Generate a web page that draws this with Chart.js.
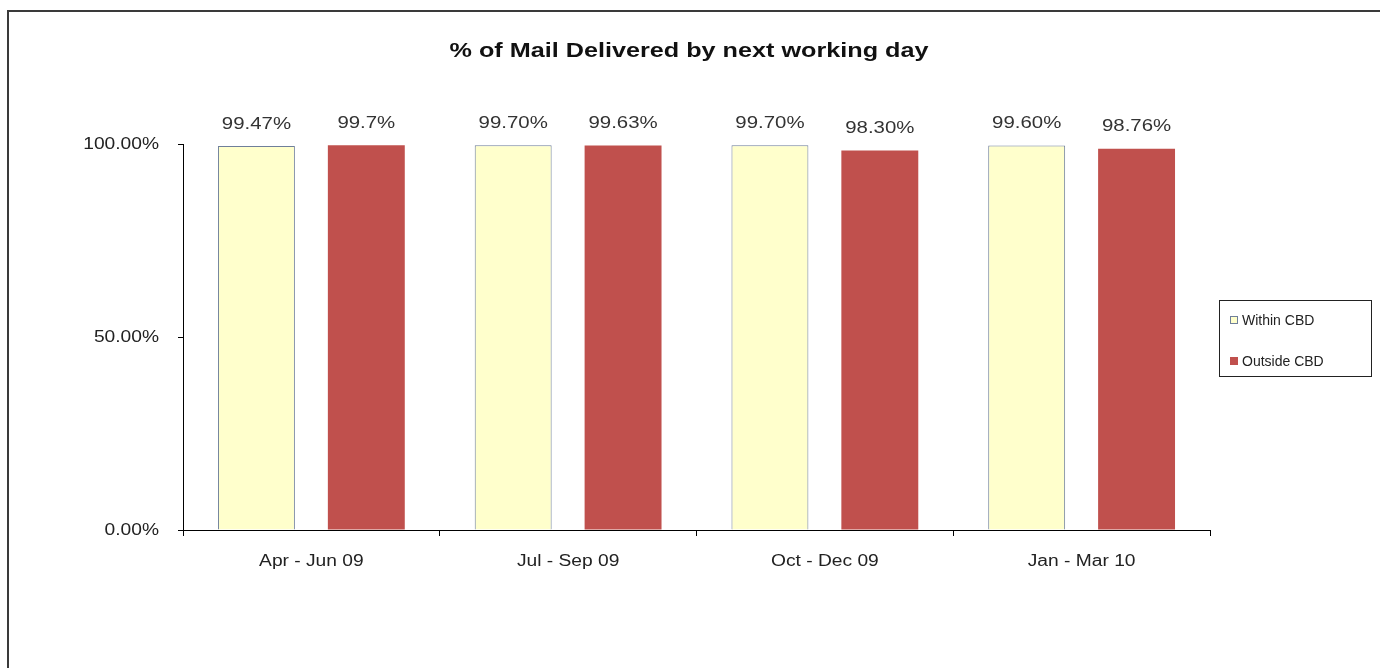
<!DOCTYPE html>
<html>
<head>
<meta charset="utf-8">
<script src="https://cdn.jsdelivr.net/npm/chart.js@4.4.1/dist/chart.umd.min.js"></script>
<style>
    body { margin: 0; background: #fff; font-family: "Liberation Sans", Arial, sans-serif; }
    #wrap { position: relative; width: 1380px; height: 668px; overflow: hidden; }
    #frame { position: absolute; left: 7px; top: 10px; width: 1400px; height: 700px; border: 2px solid #3a3a3a; box-sizing: border-box; }
    #titulo { position: absolute; left: 0; width: 1378px; top: 38px; text-align: center;
        font: bold 21px "Liberation Sans", Arial, sans-serif; color: #111;
        transform: scaleX(1.2); transform-origin: 689px 0; }
    #legenda { position: absolute; left: 1219px; top: 300px; width: 153px; height: 77px;
        border: 1px solid #222; box-sizing: border-box; font-size: 14px; color: #222; }
    #legenda div { position: absolute; left: 10px; }
    #legenda span { display: inline-block; width: 8px; height: 8px; margin-right: 4px; vertical-align: 1px; box-sizing: border-box; }
    canvas { position: absolute; left: 0; top: 0; }
</style>
</head>
<body>
<div id="wrap">
    <div id="frame"></div>
    <canvas id="barChart" width="1380" height="668"></canvas>
    <div id="titulo">% of Mail Delivered by next working day</div>
    <div id="legenda">
        <div style="top:11px"><span style="background:#ffffcc;border:1px solid #6f7f9a"></span>Within CBD</div>
        <div style="top:52px"><span style="background:#c0504d"></span>Outside CBD</div>
    </div>
</div>
<script>
const trimestres = ['Apr - Jun 09', 'Jul - Sep 09', 'Oct - Dec 09', 'Jan - Mar 10'];
const dentroCBD = [99.47, 99.70, 99.70, 99.60];
const foraCBD = [99.7, 99.63, 98.30, 98.76];
const rotulosDentro = ['99.47%', '99.70%', '99.70%', '99.60%'];
const rotulosFora = ['99.7%', '99.63%', '98.30%', '98.76%'];
const rotulosY = ['0.00%', '50.00%', '100.00%'];

// texto esticado na horizontal, como na imagem original
function textoLargo(ctx, texto, x, y, alinhamento) {
    ctx.save();
    ctx.translate(x, y);
    ctx.scale(1.2, 1);
    ctx.textAlign = alinhamento;
    ctx.textBaseline = 'middle';
    ctx.fillText(texto, 0, 0);
    ctx.restore();
}

const textos = {
    id: 'textos',
    afterDraw(chart) {
        const ctx = chart.ctx;
        const listas = [rotulosDentro, rotulosFora];
        const fonte = '"Liberation Sans", Arial, sans-serif';
        ctx.save();
        ctx.fillStyle = '#333';
        ctx.font = '17px ' + fonte;
        chart.data.datasets.forEach(function(ds, i) {
            chart.getDatasetMeta(i).data.forEach(function(bar, j) {
                textoLargo(ctx, listas[i][j], bar.x, bar.y - 22, 'center');
            });
        });

        ctx.fillStyle = '#222';
        ctx.font = '16px ' + fonte;
        const y = chart.scales.y;
        y.ticks.forEach(function(t, i) {
            textoLargo(ctx, rotulosY[t.value / 50], y.left + y.width - 24, y.getPixelForTick(i) + 1, 'right');
        });

        const x = chart.scales.x;
        x.ticks.forEach(function(t, i) {
            textoLargo(ctx, trimestres[i], x.getPixelForTick(i), x.top + 32, 'center');
        });
        ctx.restore();
    }
};

const ctx = document.getElementById('barChart').getContext('2d');

const barChart = new Chart(ctx, {
    type: 'bar',
    data: {
        labels: trimestres,
        datasets: [{
            label: 'Within CBD',
            data: dentroCBD,
            backgroundColor: '#ffffcc',
            borderColor: '#6f7f9a',
            borderWidth: 1,
            categoryPercentage: 0.856,
            barPercentage: 0.7
        }, {
            label: 'Outside CBD',
            data: foraCBD,
            backgroundColor: '#c0504d',
            borderWidth: 0,
            categoryPercentage: 0.856,
            barPercentage: 0.7
        }]
    },
    options: {
        responsive: false,
        animation: false,
        layout: {
            padding: { top: 144, right: 170, left: 0, bottom: 0 }
        },
        plugins: {
            legend: { display: false },
            tooltip: { enabled: false }
        },
        scales: {
            x: {
                afterFit: function(scale) { scale.height = 668 - 530; },
                grid: {
                    offset: true,
                    drawOnChartArea: false,
                    tickLength: 6,
                    color: '#000'
                },
                border: { color: '#000', width: 1 },
                ticks: { display: false }
            },
            y: {
                min: 0,
                max: 100,
                afterFit: function(scale) { scale.width = 183; },
                grid: {
                    drawOnChartArea: false,
                    tickLength: 5,
                    color: '#000'
                },
                border: { color: '#000', width: 1 },
                ticks: { stepSize: 50, display: false }
            }
        }
    },
    plugins: [textos]
});
</script>
</body>
</html>
